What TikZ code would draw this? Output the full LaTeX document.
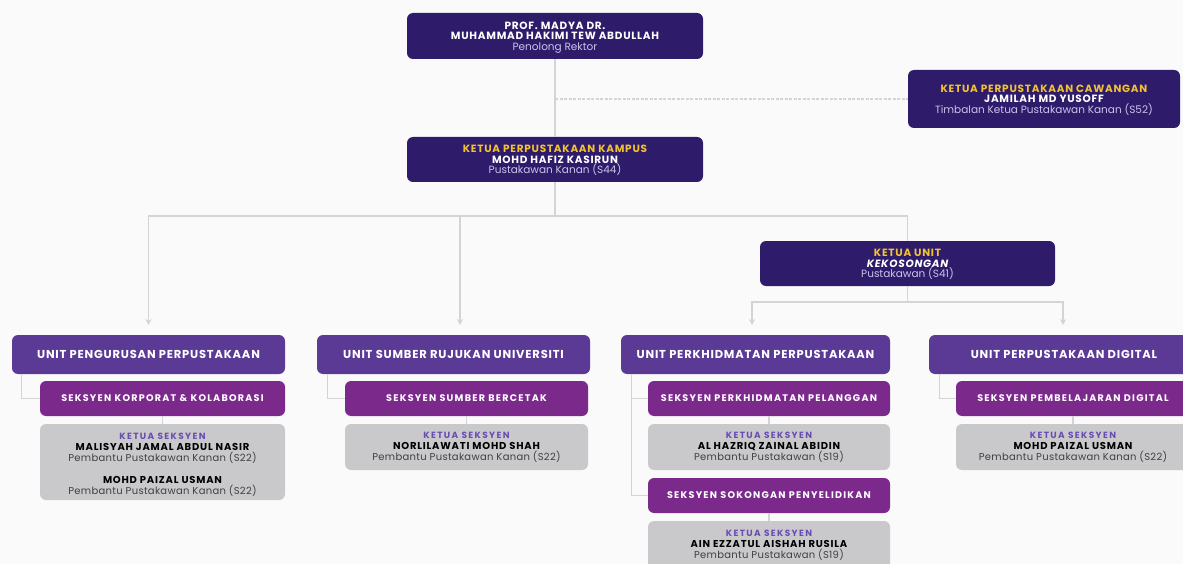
\documentclass[tikz,border=0pt]{standalone}
\usepackage{fontspec}
\setmainfont{Poppins}
\usetikzlibrary{arrows.meta}
\definecolor{paper}{HTML}{FAFAFA}
\definecolor{indigo}{HTML}{2E1C6B}
\definecolor{unitpurple}{HTML}{5B3A95}
\definecolor{seksyenpink}{HTML}{7B2A8C}
\definecolor{ketuagrey}{HTML}{C9C9CB}
\definecolor{gold}{HTML}{F2C230}
\definecolor{lavender}{HTML}{CBC3EA}
\definecolor{ketuaviolet}{HTML}{6A4CB4}
\definecolor{linkgrey}{HTML}{D4D4D4}
\tikzset{
  darkbox/.style={fill=indigo, rounded corners=6pt, inner sep=0pt, align=center,
    text depth=0pt, text=white, font=\fontsize{10.5}{10.5}\selectfont},
  unitbox/.style={fill=unitpurple, rounded corners=6pt, inner sep=0pt, align=center,
    text=white, minimum height=39pt, font=\fontsize{11.5}{12}\selectfont\bfseries\addfontfeature{LetterSpace=7}},
  seksyenbox/.style={fill=seksyenpink, rounded corners=6pt, inner sep=0pt, align=center,
    text=white, minimum height=35pt, font=\fontsize{9.6}{10}\selectfont\bfseries\addfontfeature{LetterSpace=13}},
  ketuabox/.style={fill=ketuagrey, rounded corners=6pt, inner sep=0pt, align=center,
    text=black, font=\fontsize{10}{11}\selectfont},
  link/.style={draw=linkgrey, line width=1.2pt},
  dashlink/.style={draw=linkgrey, line width=1.2pt, dash pattern=on 3pt off 1.5pt},
  arrowlink/.style={link, -{Stealth[length=6pt, width=6pt]}},
}
\newcommand{\heavy}[1]{{\bfseries\addfontfeature{LetterSpace=7}#1}}
\newcommand{\gold}[1]{{\color{gold}\heavy{#1}}}
\newcommand{\pos}[1]{{\color{lavender}#1}}
\newcommand{\kseksyen}{{\color{ketuaviolet}\bfseries\fontsize{9}{11}\selectfont\addfontfeature{LetterSpace=15}KETUA SEKSYEN}}
\newcommand{\kname}[1]{{\bfseries\addfontfeature{LetterSpace=8}#1}}
\newcommand{\grade}[1]{{\color{black!75}\addfontfeature{LetterSpace=3}#1}}
\begin{document}
\begin{tikzpicture}[x=1pt, y=-1pt]
  %%%%% START %%%%%
  \fill[paper] (0,0) rectangle (1183,564);
  \clip (0,0) rectangle (1183,564);

  % pimpinan
  \node[darkbox, minimum width=296pt, minimum height=46pt] (rektor) at (555,36)
    {\heavy{PROF. MADYA DR.}\\ \heavy{MUHAMMAD HAKIMI TEW ABDULLAH}\\ \pos{Penolong Rektor}};
  \node[darkbox, minimum width=272pt, minimum height=58pt] (cawangan) at (1044,99)
    {\gold{KETUA PERPUSTAKAAN CAWANGAN}\\ \heavy{JAMILAH MD YUSOFF}\\ \pos{Timbalan Ketua Pustakawan Kanan (S52)}};
  \node[darkbox, minimum width=296pt, minimum height=45pt] (kampus) at (555,159.5)
    {\gold{KETUA PERPUSTAKAAN KAMPUS}\\ \heavy{MOHD HAFIZ KASIRUN}\\ \pos{Pustakawan Kanan (S44)}};
  \node[darkbox, minimum width=295pt, minimum height=45pt] (ketuaunit) at (907.5,263.5)
    {\gold{KETUA UNIT}\\ \heavy{\itshape KEKOSONGAN}\\ \pos{Pustakawan (S41)}};

  % unit
  \node[unitbox, minimum width=273pt] (u1) at (148.5,354.5) {UNIT PENGURUSAN PERPUSTAKAAN};
  \node[unitbox, minimum width=273pt] (u2) at (453.5,354.5) {UNIT SUMBER RUJUKAN UNIVERSITI};
  \node[unitbox, minimum width=269pt] (u3) at (755.5,354.5) {UNIT PERKHIDMATAN PERPUSTAKAAN};
  \node[unitbox, minimum width=270pt] (u4) at (1064,354.5) {UNIT PERPUSTAKAAN DIGITAL};

  % seksyen
  \node[seksyenbox, minimum width=245pt] (s1) at (162.5,398.5) {SEKSYEN KORPORAT \& KOLABORASI};
  \node[seksyenbox, minimum width=243pt] (s2) at (466.5,398.5) {SEKSYEN SUMBER BERCETAK};
  \node[seksyenbox, minimum width=242pt] (s3) at (769,398.5) {SEKSYEN PERKHIDMATAN PELANGGAN};
  \node[seksyenbox, minimum width=234pt] (s4) at (1073,398.5) {SEKSYEN PEMBELAJARAN DIGITAL};
  \node[seksyenbox, minimum width=242pt] (s5) at (769,495.5) {SEKSYEN SOKONGAN PENYELIDIKAN};

  % ketua seksyen
  \node[ketuabox, minimum width=245pt, minimum height=76pt] (k1) at (162.5,462)
    {\rule{0pt}{11pt}\kseksyen\\ \kname{MALISYAH JAMAL ABDUL NASIR}\\ \grade{Pembantu Pustakawan Kanan (S22)}\\[11pt]
     \kname{MOHD PAIZAL USMAN}\\ \grade{Pembantu Pustakawan Kanan (S22)}};
  \node[ketuabox, minimum width=243pt, minimum height=46pt] (k2) at (466.5,447)
    {\kseksyen\\ \kname{NORLILAWATI MOHD SHAH}\\ \grade{Pembantu Pustakawan Kanan (S22)}};
  \node[ketuabox, minimum width=242pt, minimum height=46pt] (k3) at (769,447)
    {\kseksyen\\ \kname{AL HAZRIQ ZAINAL ABIDIN}\\ \grade{Pembantu Pustakawan (S19)}};
  \node[ketuabox, minimum width=234pt, minimum height=46pt] (k4) at (1073,447)
    {\kseksyen\\ \kname{MOHD PAIZAL USMAN}\\ \grade{Pembantu Pustakawan Kanan (S22)}};
  \node[ketuabox, minimum width=242pt, minimum height=48pt] (k5) at (769,545)
    {\kseksyen\\ \kname{AIN EZZATUL AISHAH RUSILA}\\ \grade{Pembantu Pustakawan (S19)}};

  % titik cabang
  \coordinate (split) at (555,216);
  \coordinate (split2) at (907.5,302);
  \coordinate (a1) at (148.5,325);
  \coordinate (a2) at (460,325);
  \coordinate (a3) at (752,325);
  \coordinate (a4) at (1063,325);

  % connectors
  \draw[link] (rektor.south) -- (kampus.north);
  \draw[dashlink] (rektor.south |- cawangan.west) -- (cawangan.west);
  \draw[link] (kampus.south) -- (split);
  \draw[link] (split) -| (ketuaunit.north);
  \draw[arrowlink] (split) -| (a1);
  \draw[arrowlink] (split) -| (a2);
  \draw[link] (ketuaunit.south) -- (split2);
  \draw[arrowlink] (split2) -| (a3);
  \draw[arrowlink] (split2) -| (a4);

  \draw[link] ([xshift=10pt]u1.south west) |- (s1.west);
  \draw[link] ([xshift=11pt]u2.south west) |- (s2.west);
  \draw[link] ([xshift=11pt]u3.south west) |- (s3.west);
  \draw[link] ([xshift=11pt]u3.south west) |- (s5.west);
  \draw[link] ([xshift=11pt]u4.south west) |- (s4.west);

  \draw[link] (s1.south) -- (k1.north);
  \draw[link] (s2.south) -- (k2.north);
  \draw[link] (s3.south) -- (k3.north);
  \draw[link] (s4.south) -- (k4.north);
  \draw[link] (s5.south) -- (k5.north);
  %%%%% END %%%%%
\end{tikzpicture}
\end{document}
